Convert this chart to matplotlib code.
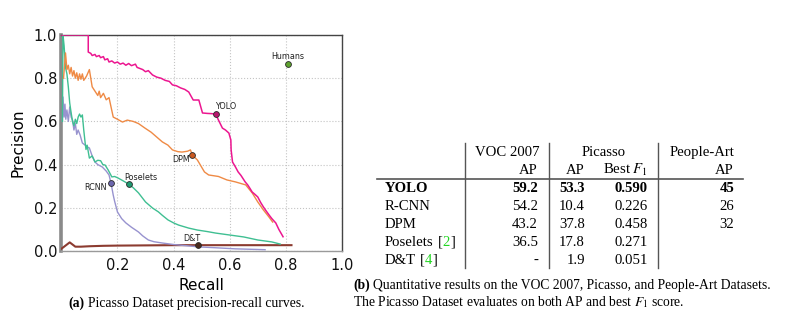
import matplotlib
matplotlib.use('Agg')
import matplotlib.pyplot as plt

plt.rcParams['mathtext.fontset'] = 'stix'

# ---------------- data ----------------
yolo_r = [0.0, 0.096, 0.096, 0.105, 0.11, 0.12, 0.125, 0.135, 0.14, 0.15, 0.155, 0.165, 0.17, 0.18, 0.19,
          0.20, 0.21, 0.22, 0.23, 0.24, 0.25, 0.264, 0.27, 0.28, 0.29, 0.30, 0.31, 0.325, 0.34, 0.355,
          0.37, 0.385, 0.396, 0.41, 0.425, 0.44, 0.454, 0.47, 0.49, 0.503, 0.52, 0.535, 0.55, 0.56,
          0.574, 0.585, 0.597, 0.604, 0.605, 0.61, 0.62, 0.63, 0.64, 0.646, 0.655, 0.664, 0.672, 0.68,
          0.69, 0.70, 0.71, 0.72, 0.73, 0.74, 0.75, 0.764, 0.775, 0.79]
yolo_p = [1.0, 1.0, 0.921, 0.915, 0.905, 0.91, 0.90, 0.905, 0.895, 0.90, 0.885, 0.89, 0.875, 0.88, 0.87,
          0.875, 0.865, 0.87, 0.86, 0.868, 0.858, 0.865, 0.85, 0.845, 0.84, 0.83, 0.835, 0.815, 0.805, 0.80,
          0.79, 0.785, 0.769, 0.765, 0.755, 0.748, 0.736, 0.699, 0.699, 0.639, 0.637, 0.636, 0.634, 0.606,
          0.569, 0.56, 0.546, 0.514, 0.468, 0.412, 0.39, 0.366, 0.35, 0.338, 0.32, 0.306, 0.29, 0.273,
          0.262, 0.25, 0.225, 0.204, 0.185, 0.167, 0.15, 0.13, 0.10, 0.066]

dpm_r = [0.008, 0.015, 0.02, 0.025, 0.03, 0.035, 0.04, 0.045, 0.05, 0.055, 0.06, 0.065, 0.07, 0.075, 0.08,
         0.09, 0.10, 0.11, 0.12, 0.13, 0.135, 0.14, 0.15, 0.16, 0.17, 0.185, 0.20, 0.218, 0.235, 0.256,
         0.275, 0.298, 0.32, 0.344, 0.36, 0.38, 0.396, 0.415, 0.43, 0.45, 0.46, 0.467, 0.485, 0.51, 0.525,
         0.56, 0.59, 0.62, 0.657, 0.68, 0.70, 0.72, 0.74, 0.753]
dpm_p = [0.80, 0.917, 0.84, 0.86, 0.82, 0.85, 0.81, 0.835, 0.80, 0.825, 0.79, 0.82, 0.795, 0.82, 0.79,
         0.81, 0.84, 0.76, 0.74, 0.72, 0.74, 0.71, 0.73, 0.70, 0.71, 0.62, 0.61, 0.597, 0.606, 0.60,
         0.59, 0.569, 0.55, 0.523, 0.505, 0.49, 0.468, 0.46, 0.458, 0.462, 0.468, 0.444, 0.421, 0.366, 0.352,
         0.345, 0.329, 0.32, 0.306, 0.269, 0.227, 0.19, 0.157, 0.134]

poselets_r = [0.004, 0.006, 0.01, 0.015, 0.02, 0.025, 0.03, 0.035, 0.04, 0.045, 0.05, 0.055, 0.06, 0.065,
              0.07, 0.075, 0.08, 0.085, 0.088, 0.092, 0.10, 0.11, 0.12, 0.13, 0.14, 0.148, 0.156, 0.167,
              0.18, 0.19, 0.202, 0.22, 0.24, 0.257, 0.275, 0.30, 0.325, 0.346, 0.36, 0.38, 0.40, 0.418,
              0.454, 0.485, 0.52, 0.55, 0.60, 0.65, 0.70, 0.75, 0.78]
poselets_p = [0.60, 1.0, 0.95, 0.85, 0.82, 0.76, 0.685, 0.64, 0.60, 0.58, 0.61, 0.59, 0.62, 0.634,
              0.62, 0.63, 0.56, 0.50, 0.47, 0.49, 0.43, 0.44, 0.412, 0.42, 0.418, 0.40, 0.398, 0.375,
              0.343, 0.345, 0.338, 0.325, 0.31, 0.292, 0.269, 0.227, 0.199, 0.181, 0.165, 0.144, 0.13, 0.12,
              0.106, 0.097, 0.09, 0.083, 0.074, 0.065, 0.051, 0.042, 0.032]

rcnn_r = [0.004, 0.006, 0.01, 0.013, 0.016, 0.02, 0.025, 0.03, 0.035, 0.04, 0.045, 0.05, 0.055, 0.06,
          0.067, 0.075, 0.085, 0.095, 0.10, 0.11, 0.12, 0.13, 0.146, 0.16, 0.17, 0.177, 0.185, 0.19, 0.20,
          0.215, 0.23, 0.25, 0.275, 0.29, 0.31, 0.33, 0.36, 0.40, 0.45, 0.49, 0.55, 0.62, 0.726]
rcnn_p = [0.60, 0.713, 0.62, 0.68, 0.61, 0.653, 0.60, 0.667, 0.62, 0.606, 0.56, 0.59, 0.54, 0.56,
          0.537, 0.50, 0.49, 0.48, 0.477, 0.44, 0.412, 0.40, 0.389, 0.37, 0.352, 0.315, 0.259, 0.23, 0.181,
          0.15, 0.13, 0.11, 0.088, 0.07, 0.051, 0.043, 0.037, 0.03, 0.024, 0.019, 0.015, 0.01, 0.006]

dt_r = [0.0, 0.01, 0.02, 0.03, 0.04, 0.05, 0.07, 0.10, 0.15, 0.20, 0.30, 0.40, 0.487, 0.60, 0.70, 0.82]
dt_p = [0.01, 0.02, 0.03, 0.04, 0.03, 0.02, 0.02, 0.022, 0.024, 0.025, 0.026, 0.027, 0.027, 0.027, 0.027, 0.027]

# best-F1 operating points (labels)
point_names = ["YOLO", "DPM", "Poselets", "RCNN", "D&T", "Humans"]
point_r = [0.55, 0.467, 0.24, 0.177, 0.487, 0.807]
point_p = [0.634, 0.444, 0.31, 0.315, 0.027, 0.866]

x_ticks = [0.2, 0.4, 0.6, 0.8, 1.0]
y_ticks = [0.0, 0.2, 0.4, 0.6, 0.8, 1.0]

# table
tbl_methods = ["YOLO", "R-CNN", "DPM", "Poselets", "D&T"]
tbl_cites = ["", "", "", "2", "4"]
tbl_voc_ap = ["59.2", "54.2", "43.2", "36.5", "-"]
tbl_pic_ap = ["53.3", "10.4", "37.8", "17.8", "1.9"]
tbl_pic_f1 = ["0.590", "0.226", "0.458", "0.271", "0.051"]
tbl_pa_ap = ["45", "26", "32", "", ""]

# ---------------- figure ----------------
W, H = 792, 326
fig = plt.figure(figsize=(W / 100, H / 100), dpi=100)
renderer = fig.canvas.get_renderer()


def fx(px):
    return px / W


def fy(py):
    return 1 - py / H


ax = fig.add_axes([fx(61.3), fy(251), 280.7 / W, 216 / H])

ax.plot(dt_r, dt_p, color='#8c3b30', lw=1.5, zorder=3)
ax.plot(rcnn_r, rcnn_p, color='#9893cf', lw=1.0, zorder=3)
ax.plot(poselets_r, poselets_p, color='#3fbf92', lw=1.0, zorder=3)
ax.plot(dpm_r, dpm_p, color='#ef8a45', lw=1.0, zorder=3)
ax.plot(yolo_r, yolo_p, color='#ec1690', lw=1.1, zorder=4)

marker_colors = ['#b8176e', '#c9581f', '#1f9a72', '#6c66ae', '#4a2a1c', '#5ea22f']
offsets = [(7.5, 5.5), (-8, -3.5), (8.5, 5), (-11.5, -3), (-4.5, 4.5), (0, 5)]
for name, r, p, c, off in zip(point_names, point_r, point_p, marker_colors, offsets):
    ax.plot([r], [p], 'o', color=c, ms=4.2, mec='#2a2a2a', mew=0.6, zorder=6)
    ax.annotate(name, (r, p), xytext=off, textcoords='offset points', ha='center', va='center',
                fontsize=5.8, color='#222222', zorder=7)

ax.set_xlim(0, 1)
ax.set_ylim(0, 1)
ax.set_xticks(x_ticks)
ax.set_yticks(y_ticks)
ax.tick_params(length=0, labelsize=10.5, colors='#111111')
ax.tick_params(axis='x', pad=5)
ax.tick_params(axis='y', pad=3)
ax.grid(True, ls=':', color='#c4c4c4', lw=0.8)
ax.set_axisbelow(True)
ax.spines['left'].set_color('#8a8a8a')
ax.spines['left'].set_linewidth(2.6)
ax.spines['bottom'].set_color('#9a9a9a')
ax.spines['bottom'].set_linewidth(1.0)
for s in ['top', 'right']:
    ax.spines[s].set_color('#444444')
    ax.spines[s].set_linewidth(1.0)
ax.set_xlabel('Recall', fontsize=11, labelpad=4)
ax.set_ylabel('Precision', fontsize=11, labelpad=6)

# ---------------- table & captions (serif) ----------------
SERIF = 'Liberation Serif'


def rich(x, y, parts, size):
    """Draw consecutive text pieces on one baseline starting at pixel x (left) and y (baseline)."""
    cur = x
    for s, props in parts:
        if s == ' ':
            cur += size * 100 / 72 * 0.25
            continue
        t = fig.text(fx(cur), fy(y), s, ha='left', va='baseline', fontsize=size, family=SERIF, **props)
        bb = t.get_window_extent(renderer)
        cur = bb.x1 + 0.3


TS = 10.6
GREEN = '#22d622'

# header
fig.text(fx(507), fy(156), 'VOC 2007', ha='center', va='baseline', fontsize=TS, family=SERIF)
fig.text(fx(603.5), fy(156), 'Picasso', ha='center', va='baseline', fontsize=TS, family=SERIF)
fig.text(fx(702), fy(156), 'People-Art', ha='center', va='baseline', fontsize=TS, family=SERIF)
fig.text(fx(538), fy(174), 'AP', ha='right', va='baseline', fontsize=TS, family=SERIF)
fig.text(fx(585), fy(174), 'AP', ha='right', va='baseline', fontsize=TS, family=SERIF)
fig.text(fx(648), fy(174), r'Best $F_1$', ha='right', va='baseline', fontsize=TS, family=SERIF)
fig.text(fx(734), fy(174), 'AP', ha='right', va='baseline', fontsize=TS, family=SERIF)

row_base = [192, 210, 228, 246, 264]
for i, m in enumerate(tbl_methods):
    y = row_base[i]
    w = 'bold' if i == 0 else 'normal'
    if tbl_cites[i]:
        rich(385, y, [(m, {}), (' ', {}), ('[', {}), (tbl_cites[i], {'color': GREEN}), (']', {})], TS)
    else:
        fig.text(fx(385), fy(y), m, ha='left', va='baseline', fontsize=TS, family=SERIF, weight=w)
    for xr, col in [(538, tbl_voc_ap), (585, tbl_pic_ap), (648, tbl_pic_f1), (734, tbl_pa_ap)]:
        if col[i]:
            fig.text(fx(xr), fy(y), col[i], ha='right', va='baseline', fontsize=TS, family=SERIF, weight=w)

for xv in [465, 549, 658]:
    fig.add_artist(plt.Line2D([fx(xv), fx(xv)], [fy(143), fy(268)], color='#555555', lw=1.0))
fig.add_artist(plt.Line2D([fx(377), fx(743)], [fy(179), fy(179)], color='#555555', lw=1.2))

CS = 9.8
rich(68, 307, [('(a)', {'weight': 'bold'}), (' ', {}), ('Picasso Dataset precision-recall curves.', {})], CS)
rich(353, 289, [('(b)', {'weight': 'bold'}), (' ', {}),
                ('Quantitative results on the VOC 2007, Picasso, and People-Art Datasets.', {})], CS)
fig.text(fx(353), fy(306), r'The Picasso Dataset evaluates on both AP and best $F_1$ score.',
         ha='left', va='baseline', fontsize=CS, family=SERIF)

fig.savefig('out.png', dpi=100)
